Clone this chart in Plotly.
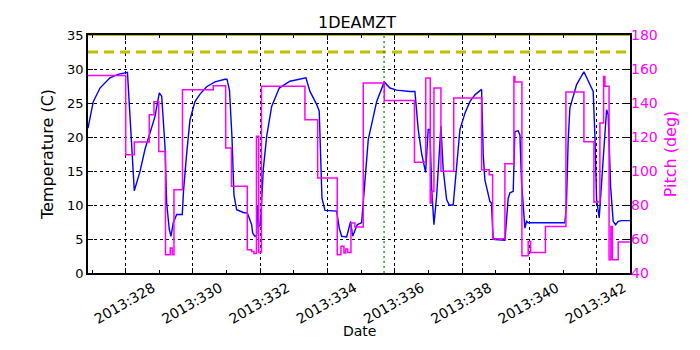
import plotly.graph_objects as go

#--- temperature (1DEAMZT), day of year 2013
temp_day = [326.880, 327.037, 327.236, 327.533, 327.771, 328.000, 328.053, 328.256, 328.425, 328.574,
            328.722, 328.871, 328.999, 329.070, 329.168, 329.218, 329.296, 329.346, 329.415, 329.516,
            329.682, 329.718, 329.813, 329.911, 330.059, 330.210, 330.407, 330.654, 330.951, 331.010,
            331.085, 331.159, 331.218, 331.299, 331.495, 331.614, 331.673, 331.744, 331.774, 331.843,
            331.893, 331.923, 331.961, 332.006, 332.089, 332.190, 332.339, 332.565, 332.883, 333.180,
            333.358, 333.477, 333.676, 333.753, 333.789, 333.834, 333.923, 334.270, 334.348, 334.419,
            334.568, 334.686, 334.746, 334.814, 334.883, 335.013, 335.111, 335.210, 335.459, 335.655,
            335.685, 335.854, 336.053, 336.449, 336.597, 336.695, 336.796, 336.915, 336.992, 337.043,
            337.094, 337.162, 337.242, 337.370, 337.438, 337.539, 337.617, 337.735, 337.837, 337.935,
            338.083, 338.232, 338.380, 338.579, 338.627, 338.677, 338.826, 338.871, 338.924, 338.975,
            339.272, 339.370, 339.421, 339.519, 339.569, 339.667, 339.718, 339.768, 339.866, 339.917,
            339.964, 341.055, 341.100, 341.153, 341.204, 341.403, 341.620, 341.747, 341.878, 341.896,
            341.947, 341.997, 342.074, 342.146, 342.244, 342.294, 342.342, 342.413, 342.490, 342.562,
            342.639, 342.740, 342.987]
temp_val = [21.3, 25.2, 27.2, 28.7, 29.2, 29.4, 29.5, 12.1, 14.9, 18.2,
            20.6, 23.0, 26.5, 26.0, 18.6, 10.3, 6.4, 5.4, 7.4, 8.6,
            8.6, 12.0, 17.6, 22.5, 25.2, 26.3, 27.4, 28.1, 28.5, 28.5,
            26.9, 20.0, 11.5, 9.3, 8.9, 8.8, 8.1, 7.1, 5.9, 5.4,
            5.5, 10.0, 6.9, 7.0, 15.2, 20.1, 24.5, 27.2, 28.2, 28.5,
            28.7, 26.7, 24.8, 23.8, 18.0, 11.0, 9.2, 9.1, 6.6, 5.4,
            5.3, 7.6, 5.4, 6.4, 7.1, 7.4, 13.7, 19.6, 25.2, 27.9,
            28.1, 27.2, 26.9, 26.7, 26.7, 21.1, 17.6, 14.8, 21.1, 21.1,
            12.5, 7.1, 11.3, 21.6, 15.2, 10.8, 10.0, 10.0, 15.2, 21.1,
            23.5, 25.2, 26.2, 27.0, 17.4, 13.7, 10.5, 10.3, 5.0, 4.9,
            4.8, 11.0, 11.8, 12.0, 20.8, 20.9, 20.3, 13.2, 6.6, 7.6,
            7.4, 7.4, 10.0, 19.6, 24.3, 27.7, 29.6, 28.2, 27.0, 26.7,
            20.1, 10.8, 8.1, 13.7, 20.1, 24.0, 23.3, 12.7, 7.6, 7.1,
            7.6, 7.7, 7.7]

#--- pitch (deg), step values
pitch_day = [326.880, 328.000, 328.256, 328.701, 328.841, 328.984, 329.183, 329.325, 329.385, 329.435,
             329.688, 330.603, 330.972, 331.144, 331.614, 331.744, 331.813, 331.887, 331.952, 332.036,
             333.328, 333.706, 334.288, 334.398, 334.487, 334.538, 334.597, 334.696, 334.814, 335.061,
             335.685, 336.583, 336.918, 337.052, 337.094, 337.162, 337.370, 337.750, 338.579, 338.805,
             338.906, 339.272, 339.539, 339.569, 339.777, 339.964, 340.036, 340.476, 341.085, 341.620,
             341.917, 342.095, 342.205, 342.244, 342.368, 342.422, 342.467, 342.639, 342.987]
pitch_val = [156.2, 109.5, 117.1, 133.1, 140.8, 111.5, 50.8, 54.7, 50.8, 89.0,
             147.8, 150.2, 113.5, 91.0, 53.7, 52.7, 51.5, 120.4, 52.1, 149.8,
             130.2, 95.9, 50.8, 55.7, 51.8, 54.1, 52.0, 69.4, 67.0, 151.8,
             141.4, 105.1, 154.7, 81.2, 88.0, 148.8, 99.8, 143.0, 100.8, 97.8,
             60.2, 104.3, 155.6, 152.4, 50.2, 58.6, 52.1, 67.4, 146.5, 117.2,
             81.8, 128.2, 155.6, 149.8, 47.8, 67.4, 47.8, 58.2, 58.2]

x_range = [326.88, 342.99]
major_days = [328, 330, 332, 334, 336, 338, 340, 342]
major_text = ['2013:%d' % d for d in major_days]
minor_days = [327, 329, 331, 333, 335, 337, 339, 341]
planning_limit = 32.5
caution_limit = 35.0
now_day = 335.68

FONT = 'DejaVu Sans'
OLIVE = '#bfbf00'

fig = go.Figure()
fig.add_trace(go.Scatter(x=temp_day, y=temp_val, mode='lines', line=dict(color='#0000ff', width=1.4),
                         showlegend=False))
fig.add_trace(go.Scatter(x=x_range, y=[planning_limit]*2, mode='lines',
                         line=dict(color=OLIVE, width=3, dash='10px,6px'), showlegend=False))
fig.add_trace(go.Scatter(x=x_range, y=[caution_limit]*2, mode='lines', line=dict(color=OLIVE, width=2),
                         showlegend=False, cliponaxis=False))
fig.add_trace(go.Scatter(x=pitch_day, y=pitch_val, mode='lines', line=dict(color='#ff00ff', width=1.5, shape='hv'),
                         yaxis='y2', showlegend=False))
fig.add_trace(go.Scatter(x=[now_day, now_day], y=[0, 35], mode='lines',
                         line=dict(color='#008000', width=1.2, dash='2px,3px'), showlegend=False))

fig.update_layout(
  width=700, height=350, template='none',
  paper_bgcolor='white', plot_bgcolor='white',
  margin=dict(l=88, r=70, t=35, b=77, autoexpand=False),
  font=dict(family=FONT, size=13, color='black'),
  title=dict(text='1DEAMZT', x=0.51, xanchor='center', y=0.935, yanchor='middle', font=dict(size=16),
             automargin=False),
  xaxis=dict(range=x_range, tickmode='array', tickvals=major_days, ticktext=major_text, tickangle=-30,
             ticklabelshift=27, automargin=False, tickfont=dict(size=14),
             ticks='inside', ticklen=5, tickcolor='black', showline=True, linecolor='black', linewidth=1.5,
             mirror='ticks', showgrid=True, gridcolor='black', griddash='dot', gridwidth=1, zeroline=False,
             minor=dict(tickvals=minor_days, ticks='inside', ticklen=3, tickcolor='black', showgrid=False)),
  yaxis=dict(range=[0, 35], dtick=5, ticks='inside', ticklen=5, tickcolor='black', showline=True,
             linecolor='black', linewidth=1.5, mirror=True, showgrid=True, gridcolor='black', griddash='dot',
             gridwidth=1, zeroline=False, automargin=False, title=dict(text='Temperature (C)', standoff=10)),
  yaxis2=dict(range=[40, 180], dtick=20, overlaying='y', side='right', ticks='inside', ticklen=5,
              tickcolor='black', showgrid=False, zeroline=False, automargin=False,
              tickfont=dict(color='#ff00ff', size=14),
              title=dict(text='Pitch (deg)', font=dict(color='#ff00ff'), standoff=8)),
)
#--- x axis title placed by hand, the angled tick labels push plotly's own too low
fig.add_annotation(text='Date', xref='paper', yref='paper', x=0.5, y=-0.244, xanchor='center',
                   yanchor='middle', showarrow=False, font=dict(size=14))

# page body has an 8px default margin; drop it so the figure sits at the window origin
fig.write_html('out.html', config={'displayModeBar': False},
               post_script="document.body.style.margin='0';")
